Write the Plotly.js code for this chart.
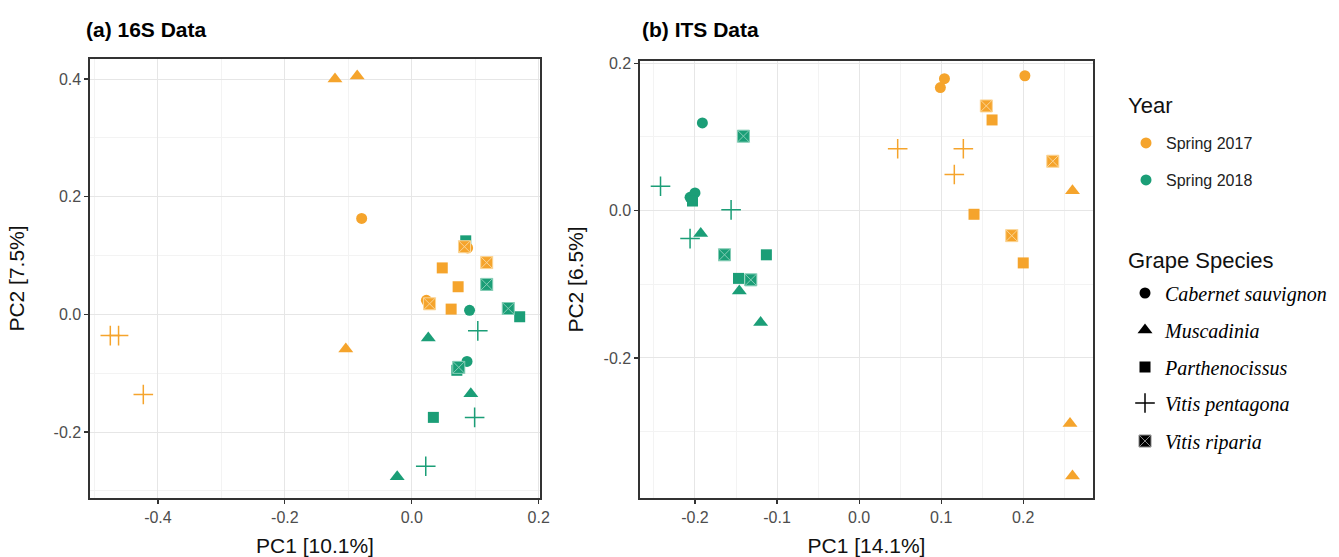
<!DOCTYPE html>
<html>
<head>
<meta charset="utf-8">
<script src="https://cdn.plot.ly/plotly-3.0.1.min.js"></script>
<style>html,body{margin:0;padding:0;background:#fff;}</style>
</head>
<body>
<div id="chart" style="width:1339px;height:557px;"></div>
<script>
// ---------- categories ----------
const yearNames = ['Spring 2017', 'Spring 2018'];
const speciesNames = ['Cabernet sauvignon', 'Muscadinia', 'Parthenocissus', 'Vitis pentagona', 'Vitis riparia'];
const speciesCodes = ['Cab', 'Mus', 'Par', 'Pen', 'Rip'];

// ---------- (a) 16S data ----------
const s16_year = ['2017','2017','2017','2017','2017','2017','2017','2017','2017','2017','2017','2017','2017','2017','2017',
                  '2018','2018','2018','2018','2018','2018','2018','2018','2018','2018','2018','2018','2018','2018','2018'];
const s16_species = ['Cab','Cab','Cab','Mus','Mus','Mus','Par','Par','Par','Pen','Pen','Pen','Rip','Rip','Rip',
                     'Cab','Cab','Mus','Mus','Mus','Par','Par','Par','Par','Pen','Pen','Pen','Rip','Rip','Rip'];
const s16_pc1 = [-0.079, 0.023, 0.088, -0.121, -0.086, -0.104, 0.048, 0.073, 0.062, -0.475, -0.462, -0.423, 0.028, 0.118, 0.083,
                 0.091, 0.087, 0.026, 0.093, -0.023, 0.085, 0.170, 0.071, 0.034, 0.104, 0.099, 0.022, 0.118, 0.152, 0.074];
const s16_pc2 = [0.163, 0.024, 0.113, 0.400, 0.405, -0.059, 0.079, 0.047, 0.009, -0.036, -0.036, -0.136, 0.018, 0.088, 0.115,
                 0.007, -0.080, -0.040, -0.135, -0.276, 0.125, -0.004, -0.095, -0.175, -0.028, -0.175, -0.258, 0.051, 0.010, -0.090];

// ---------- (b) ITS data ----------
const its_year = ['2017','2017','2017','2017','2017','2017','2017','2017','2017','2017','2017','2017','2017','2017','2017',
                  '2018','2018','2018','2018','2018','2018','2018','2018','2018','2018','2018','2018','2018','2018','2018'];
const its_species = ['Cab','Cab','Cab','Mus','Mus','Mus','Par','Par','Par','Pen','Pen','Pen','Rip','Rip','Rip',
                     'Cab','Cab','Cab','Mus','Mus','Mus','Par','Par','Par','Pen','Pen','Pen','Rip','Rip','Rip'];
const its_pc1 = [0.099, 0.104, 0.202, 0.260, 0.257, 0.260, 0.162, 0.140, 0.200, 0.047, 0.127, 0.116, 0.155, 0.236, 0.186,
                 -0.191, -0.206, -0.200, -0.193, -0.146, -0.120, -0.203, -0.113, -0.147, -0.242, -0.156, -0.206, -0.141, -0.164, -0.132];
const its_pc2 = [0.167, 0.179, 0.183, 0.027, -0.289, -0.360, 0.123, -0.005, -0.071, 0.084, 0.084, 0.049, 0.142, 0.067, -0.034,
                 0.119, 0.018, 0.024, -0.031, -0.109, -0.152, 0.013, -0.060, -0.092, 0.033, 0.001, -0.038, 0.101, -0.060, -0.094];

// ---------- tick labels ----------
const s16_xticks = [-0.4, -0.2, 0.0, 0.2];
const s16_xtickText = ['-0.4', '-0.2', '0.0', '0.2'];
const s16_yticks = [-0.2, 0.0, 0.2, 0.4];
const s16_ytickText = ['-0.2', '0.0', '0.2', '0.4'];
const its_xticks = [-0.2, -0.1, 0.0, 0.1, 0.2];
const its_xtickText = ['-0.2', '-0.1', '0.0', '0.1', '0.2'];
const its_yticks = [-0.2, 0.0, 0.2];
const its_ytickText = ['-0.2', '0.0', '0.2'];

// ---------- styles ----------
const yearCodes = ['2017', '2018'];
const yearColor = {'2017': '#F5A42C', '2018': '#1B9E77'};
const yearLine = {'2017': '#FBD596', '2018': '#86CDB6'};
const symbolOf = {Cab: 'circle', Mus: 'triangle-up', Par: 'square', Pen: 'cross-thin', Rip: 'square-x'};
const sizeOf = {Cab: 11, Mus: 13, Par: 11, Pen: 14, Rip: 12};
const SANS = 'Liberation Sans, Arial, sans-serif';
const SERIF = 'Liberation Serif, Times New Roman, serif';

function markerFor(sp, yr, color) {
  const m = {symbol: symbolOf[sp], size: sizeOf[sp], color: color, line: {width: 0}};
  if (sp === 'Pen') m.line = {width: 1.5, color: color};
  if (sp === 'Rip') m.line = {width: 1, color: yr ? yearLine[yr] : '#888'};
  return m;
}

const traces = [];
function addPanel(pc1, pc2, yr, sp, xa, ya) {
  ['2018', '2017'].forEach(y => {
    speciesCodes.forEach(s => {
      const xs = [], ys = [];
      for (let i = 0; i < pc1.length; i++) {
        if (yr[i] === y && sp[i] === s) { xs.push(pc1[i]); ys.push(pc2[i]); }
      }
      if (!xs.length) return;
      traces.push({type: 'scatter', mode: 'markers', x: xs, y: ys, xaxis: xa, yaxis: ya,
                   showlegend: false, hoverinfo: 'skip', marker: markerFor(s, y, yearColor[y])});
    });
  });
}
addPanel(s16_pc1, s16_pc2, s16_year, s16_species, 'x', 'y');
addPanel(its_pc1, its_pc2, its_year, its_species, 'x2', 'y2');

// ---------- legend entries (one legend per entry for exact spacing) ----------
const plotTop = 59, plotBottom = 498, plotLeft = 90, plotRight = 1093;
const PH = plotBottom - plotTop, PW = plotRight - plotLeft;
const py = p => (plotBottom - p) / PH;
const px = p => (p - plotLeft) / PW;
const legendRows = [143, 180, 293, 330, 367, 403, 441];
const legendLayouts = {};
yearCodes.forEach((y, i) => {
  const key = i === 0 ? 'legend' : 'legend' + (i + 1);
  traces.push({type: 'scatter', mode: 'markers', x: [null], y: [null], name: yearNames[i], legend: key,
               showlegend: true, marker: {symbol: 'circle', size: 11, color: yearColor[y]}});
  legendLayouts[key] = {x: px(1126), xanchor: 'left', y: py(legendRows[i]), yanchor: 'middle',
                        bgcolor: 'rgba(0,0,0,0)', font: {family: SANS, size: 16, color: '#222'}};
});
speciesCodes.forEach((s, j) => {
  const key = 'legend' + (j + 3);
  traces.push({type: 'scatter', mode: 'markers', x: [null], y: [null], name: speciesNames[j], legend: key,
               showlegend: true, marker: markerFor(s, null, '#000')});
  legendLayouts[key] = {x: px(1125), xanchor: 'left', y: py(legendRows[j + 2]), yanchor: 'middle',
                        bgcolor: 'rgba(0,0,0,0)', font: {family: SERIF, size: 20, color: '#000', style: 'italic'}};
});

function axis(extra) {
  return Object.assign({
    ticks: 'outside', ticklen: 4, tickwidth: 1.2, tickcolor: '#333',
    showline: true, mirror: true, linecolor: '#333', linewidth: 1.6,
    showgrid: true, gridcolor: '#E6E6E6', gridwidth: 1, zeroline: false,
    tickfont: {family: SANS, size: 16, color: '#4D4D4D'},
    automargin: false, fixedrange: true
  }, extra);
}
const titleFont = {family: SANS, size: 21, color: '#111'};

const layout = Object.assign({
  width: 1339, height: 557,
  margin: {l: plotLeft, r: 1339 - plotRight, t: plotTop, b: 557 - plotBottom, autoexpand: false},
  paper_bgcolor: '#fff', plot_bgcolor: '#fff',
  font: {family: SANS},
  xaxis: axis({domain: [0, px(540)], range: [-0.507, 0.202], tickmode: 'array', tickvals: s16_xticks, ticktext: s16_xtickText,
               minor: {tickmode: 'array', tickvals: [-0.5, -0.3, -0.1, 0.1], showgrid: true, gridcolor: '#F3F3F3', ticks: ''},
               title: {text: 'PC1 [10.1%]', font: titleFont, standoff: 15}, anchor: 'y'}),
  yaxis: axis({domain: [0, 1], range: [-0.312, 0.434], tickmode: 'array', tickvals: s16_yticks, ticktext: s16_ytickText,
               minor: {tickmode: 'array', tickvals: [-0.3, -0.1, 0.1, 0.3], showgrid: true, gridcolor: '#F3F3F3', ticks: ''},
               title: {text: 'PC2 [7.5%]', font: titleFont, standoff: 23}, anchor: 'x'}),
  xaxis2: axis({domain: [px(640), 1], range: [-0.267, 0.285], tickmode: 'array', tickvals: its_xticks, ticktext: its_xtickText,
               minor: {tickmode: 'array', tickvals: [-0.25, -0.15, -0.05, 0.05, 0.15, 0.25], showgrid: true, gridcolor: '#F3F3F3', ticks: ''},
               title: {text: 'PC1 [14.1%]', font: titleFont, standoff: 15}, anchor: 'y2'}),
  yaxis2: axis({domain: [0, py(61)], range: [-0.39, 0.203], tickmode: 'array', tickvals: its_yticks, ticktext: its_ytickText,
               minor: {tickmode: 'array', tickvals: [-0.3, -0.1, 0.1], showgrid: true, gridcolor: '#F3F3F3', ticks: ''},
               title: {text: 'PC2 [6.5%]', font: titleFont, standoff: 14}, anchor: 'x2'}),
  annotations: [
    {text: '<b>(a) 16S Data</b>', xref: 'paper', yref: 'paper', x: px(84), y: py(30), xanchor: 'left', yanchor: 'middle',
     showarrow: false, font: {family: SANS, size: 21, color: '#000'}},
    {text: '<b>(b) ITS Data</b>', xref: 'paper', yref: 'paper', x: px(640), y: py(30), xanchor: 'left', yanchor: 'middle',
     showarrow: false, font: {family: SANS, size: 21, color: '#000'}},
    {text: 'Year', xref: 'paper', yref: 'paper', x: px(1126), y: py(105), xanchor: 'left', yanchor: 'middle',
     showarrow: false, font: {family: SANS, size: 22, color: '#111'}},
    {text: 'Grape Species', xref: 'paper', yref: 'paper', x: px(1126), y: py(260), xanchor: 'left', yanchor: 'middle',
     showarrow: false, font: {family: SANS, size: 22, color: '#111'}}
  ]
}, legendLayouts);

Plotly.newPlot('chart', traces, layout, {displayModeBar: false, staticPlot: true});
</script>
</body>
</html>
